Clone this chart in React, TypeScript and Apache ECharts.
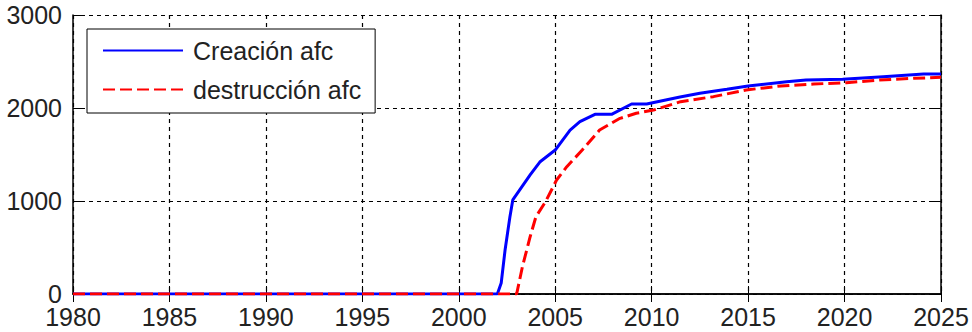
import React, { useEffect, useRef } from "react";
import * as echarts from "echarts";

const seriesNames = ["Creación afc", "destrucción afc"];

const creacionYears = [1980, 2002.0, 2002.2, 2002.4, 2002.65, 2002.8, 2003.7, 2004.2, 2005.0, 2005.77, 2006.28, 2007.06, 2007.92, 2008.96, 2009.74, 2011.47, 2012.5, 2013.9, 2015.0, 2017.0, 2018.0, 2019.9, 2022.0, 2024.1, 2025.0];
const creacionValues = [0, 0, 118, 473, 828, 1011, 1280, 1419, 1548, 1763, 1853, 1932, 1932, 2043, 2043, 2118, 2158, 2201, 2237, 2283, 2301, 2308, 2337, 2366, 2366];

const destruccionYears = [1980, 2003.0, 2003.3, 2003.7, 2004.0, 2004.5, 2005.07, 2005.6, 2006.4, 2007.3, 2008.36, 2009.2, 2010.1, 2011.5, 2013.2, 2014.9, 2016.7, 2018.4, 2020.1, 2021.8, 2023.6, 2025.0];
const destruccionValues = [0, 0, 294, 616, 831, 993, 1226, 1369, 1548, 1763, 1889, 1943, 1978, 2068, 2122, 2194, 2237, 2258, 2272, 2301, 2319, 2330];

const xTicks = { min: 1980, max: 2025, interval: 5 };
const yTicks = { min: 0, max: 3000, interval: 1000 };

const FONT = "'Liberation Sans', Arial, sans-serif";

export default function App() {
  const ref = useRef<HTMLDivElement>(null);
  useEffect(() => {
    if (!ref.current) return;
    const chart = echarts.init(ref.current, undefined, { renderer: "svg" });
    const tick = { show: true, inside: true, length: 8, lineStyle: { color: "#000", width: 1 } };
    const axisLine = { show: true, lineStyle: { color: "#000", width: 1.5 } };
    const split = { show: true, lineStyle: { color: "#000", width: 1.2, type: [4, 4] as any } };
    const label = {
      color: "#222",
      fontSize: 25,
      lineHeight: 20,
      fontFamily: FONT,
      formatter: (v: number) => String(v),
    };
    chart.setOption({
      animation: false,
      backgroundColor: "#fff",
      grid: { left: 73, top: 15, right: 31, bottom: 38, show: false },
      legend: {
        orient: "vertical",
        left: 87,
        top: 29,
        padding: [9, 14, 11, 15],
        itemGap: 14,
        itemWidth: 80,
        itemHeight: 14,
        itemStyle: { opacity: 0 },
        backgroundColor: "#fff",
        borderColor: "#000",
        borderWidth: 1,
        textStyle: { color: "#222", fontSize: 25, fontFamily: FONT, lineHeight: 25, padding: [0, 0, 0, 5] },
        data: seriesNames,
      },
      xAxis: [
        {
          type: "value",
          ...xTicks,
          position: "bottom",
          axisLine,
          axisTick: tick,
          splitLine: split,
          axisLabel: { ...label, margin: 13 },
        },
        {
          type: "value",
          ...xTicks,
          position: "top",
          axisLine,
          axisTick: tick,
          splitLine: { show: false },
          axisLabel: { show: false },
        },
      ],
      yAxis: [
        {
          type: "value",
          ...yTicks,
          position: "left",
          axisLine,
          axisTick: tick,
          splitLine: split,
          axisLabel: { ...label, margin: 11, padding: [0, 0, 3, 0] },
        },
        {
          type: "value",
          ...yTicks,
          position: "right",
          axisLine,
          axisTick: tick,
          splitLine: { show: false },
          axisLabel: { show: false },
        },
      ],
      series: [
        {
          name: seriesNames[0],
          type: "line",
          xAxisIndex: 0,
          yAxisIndex: 0,
          symbol: "none",
          lineStyle: { color: "#0000ff", width: 3 },
          itemStyle: { color: "#0000ff" },
          data: creacionYears.map((y, i) => [y, creacionValues[i]]),
          z: 3,
        },
        {
          name: seriesNames[1],
          type: "line",
          xAxisIndex: 0,
          yAxisIndex: 0,
          symbol: "none",
          lineStyle: { color: "#ff0000", width: 3, type: [12, 5] },
          itemStyle: { color: "#ff0000" },
          data: destruccionYears.map((y, i) => [y, destruccionValues[i]]),
          z: 4,
        },
      ],
    });
    return () => chart.dispose();
  }, []);
  return (
    <div
      ref={ref}
      style={{ position: "fixed", left: 0, top: 0, width: 972, height: 332, background: "#fff" }}
    />
  );
}
